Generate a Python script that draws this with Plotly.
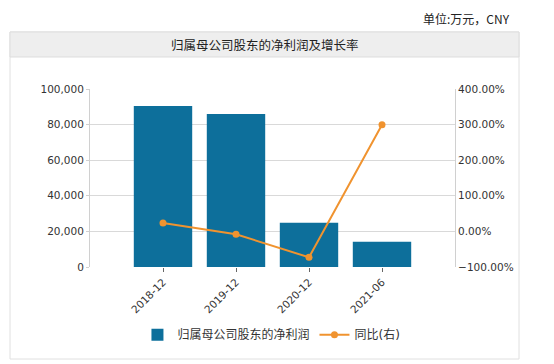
import plotly.graph_objects as go

categories = ["2018-12", "2019-12", "2020-12", "2021-06"]
net_profit = [90400, 86000, 24900, 14200]
yoy_pct = [23.5, -8.0, -72.8, 299.5]

bar_color = "#0d6f9b"
line_color = "#f0932f"
font_fam = "DejaVu Sans, Noto Sans CJK SC"

fig = go.Figure()
fig.add_trace(go.Bar(
    x=list(range(len(categories))), y=net_profit, name="归属母公司股东的净利润",
    marker=dict(color=bar_color, line=dict(width=0)), width=0.8,
))
fig.add_trace(go.Scatter(
    x=list(range(len(categories))), y=yoy_pct, name="同比(右)", yaxis="y2",
    mode="lines+markers", line=dict(color=line_color, width=2),
    marker=dict(color=line_color, size=7),
))

fig.update_layout(
    width=554, height=364,
    margin=dict(l=90, r=99, t=89, b=97),
    paper_bgcolor="#ffffff", plot_bgcolor="#ffffff",
    font=dict(family=font_fam, size=10.5, color="#333333"),
    showlegend=True,
    legend=dict(orientation="h", x=0.13, y=-0.38, xanchor="left", yanchor="middle",
                font=dict(size=12, color="#333333"), itemwidth=30, tracegroupgap=0),
    xaxis=dict(
        range=[-1, 4], tickvals=list(range(len(categories))), ticktext=categories,
        tickangle=-45, showgrid=False, zeroline=False,
        showline=False, ticks="outside", ticklen=4, tickcolor="#666666",
        tickfont=dict(size=10.5, color="#333333"),
    ),
    yaxis=dict(
        range=[0, 100000], dtick=20000, tickformat=",", showgrid=True,
        gridcolor="#d9d9d9", gridwidth=1, zeroline=False,
        showline=True, linecolor="#d0d0d0", ticks="outside", ticklen=3,
        tickcolor="#d0d0d0", tickfont=dict(size=10.5, color="#333333"),
    ),
    yaxis2=dict(
        range=[-100, 400], dtick=100, tickformat=".2f", ticksuffix="%",
        overlaying="y", side="right", showgrid=False, zeroline=False,
        showline=True, linecolor="#d0d0d0", ticks="", ticklen=0,
        tickfont=dict(size=10.5, color="#333333"),
    ),
    shapes=[
        dict(type="rect", xref="paper", yref="paper",
             x0=-80/365, x1=429/365, y0=(267-359)/178, y1=(267-32)/178,
             line=dict(color="#e0e0e0", width=1), fillcolor="rgba(0,0,0,0)", layer="below"),
        dict(type="rect", xref="paper", yref="paper",
             x0=-80/365, x1=429/365, y0=(267-57)/178, y1=(267-32)/178,
             line=dict(color="#dddddd", width=1), fillcolor="#eeeeee", layer="below"),
    ],
    annotations=[
        dict(text="归属母公司股东的净利润及增长率", xref="paper", yref="paper",
             x=(265-90)/365, y=(267-44.5)/178, showarrow=False,
             font=dict(size=12.5, color="#222222", family="Noto Sans CJK SC"),
             xanchor="center", yanchor="middle"),
        dict(text="单位:万元，CNY", xref="paper", yref="paper",
             x=(512-90)/365, y=(267-18)/178, showarrow=False,
             font=dict(size=12, color="#222222", family="Noto Sans CJK SC"),
             xanchor="right", yanchor="middle"),
    ],
)

fig.write_html("out.html")
